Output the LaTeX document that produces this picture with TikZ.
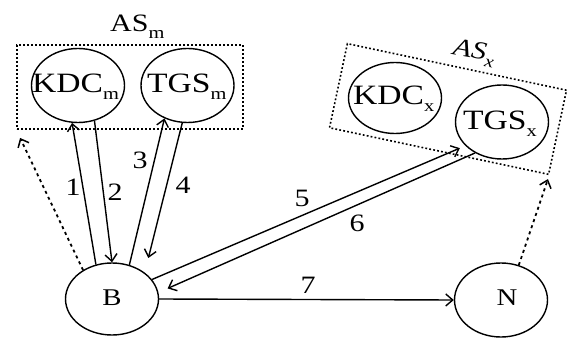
\documentclass[tikz,border=0pt]{standalone}
\usepackage{fontspec}
\setmainfont{Liberation Serif}
\usepackage{graphicx}
\usetikzlibrary{shapes.geometric,arrows.meta}
\newcommand{\hs}[1]{\scalebox{1.2}[1]{#1}}
\newcommand{\sbm}[1]{\raisebox{-7pt}{\fontsize{17}{18}\selectfont #1}}
\begin{document}
\begin{tikzpicture}[x=1pt,y=-1pt,
  ell/.style={draw, ellipse, line width=1.4pt, inner sep=0pt, minimum width=93pt, minimum height=74pt},
  bigtxt/.style={font=\fontsize{28}{30}\selectfont, inner sep=0pt},
  lbl/.style={font=\fontsize{25}{27}\selectfont, inner sep=0pt},
  arr/.style={line width=1.4pt, -{Straight Barb[length=7pt,width=12pt,line width=1.4pt]}},
  dotarr/.style={line width=1.8pt, dash pattern=on 3pt off 3.5pt, -{Straight Barb[length=7pt,width=12pt,line width=1.5pt]}},
  dotbox/.style={draw, line width=1.6pt, dash pattern=on 1.8pt off 2.2pt, inner sep=0pt}
]
\useasboundingbox (0,0) rectangle (567,339);
% ellipses
\node[ell] (KDCm) at (78,85.5) {};
\node[ell] (TGSm) at (187.5,85.5) {};
\node[ell, minimum height=71pt] (KDCx) at (395,98) {};
\node[ell] (TGSx) at (502,122) {};
\node[ell, minimum height=72pt] (B) at (112,299) {};
\node[ell] (N) at (501,300) {};
% dotted boxes
\node[dotbox, minimum width=226pt, minimum height=84pt] (ASm) at (130,87) {};
\node[dotbox, rotate=-12, minimum width=224pt, minimum height=86pt] (ASx) at (448,109) {};
% texts
\node[bigtxt, anchor=base west] (KDCmT) at (32,93) {\hs{KDC\sbm{m}}};
\node[bigtxt, anchor=base west] (TGSmT) at (147,93) {\hs{TGS\sbm{m}}};
\node[bigtxt, anchor=base west] (KDCxT) at (353,105) {\hs{KDC\sbm{x}}};
\node[bigtxt, anchor=base west] (TGSxT) at (463,130) {\hs{TGS\sbm{x}}};
\node[lbl, anchor=base west] (ASmT) at (110,32) {\hs{AS\sbm{m}}};
\node[lbl, anchor=base west, rotate=-10] (ASxT) at (452,54) {\hs{\itshape AS\sbm{x}}};
\node[lbl, font=\fontsize{24}{26}\selectfont] (BT) at (112,298) {\hs{B}};
\node[lbl, font=\fontsize{24}{26}\selectfont] (NT) at (507,298) {\hs{N}};
% arrows
\draw[arr] (B.115) -- (KDCm.261);
\draw[arr] (KDCm.295) -- (B.90);
\draw[arr] (B.63) -- (TGSm.235);
\draw[arr, shorten >=15pt] (TGSm.262) -- (B.39);
\draw[arr, shorten >=6pt] (B.26) -- (TGSx.213);
\draw[arr, shorten >=10pt] (TGSx.229) -- (B.8);
\draw[arr] (B.east) -- (N.west);
\draw[dotarr, shorten >=9pt] (B.135) -- (ASm.south west);
\draw[dotarr, shorten >=4pt] (N.63) -- (ASx.south east);
% numbers
\node[lbl] (l1) at (73,187) {\hs{1}};
\node[lbl] (l2) at (115,192) {\hs{2}};
\node[lbl] (l3) at (140,160) {\hs{3}};
\node[lbl] (l4) at (183,185) {\hs{4}};
\node[lbl] (l5) at (302,198) {\hs{5}};
\node[lbl] (l6) at (357,223) {\hs{6}};
\node[lbl] (l7) at (308,285) {\hs{7}};
\end{tikzpicture}
\end{document}
